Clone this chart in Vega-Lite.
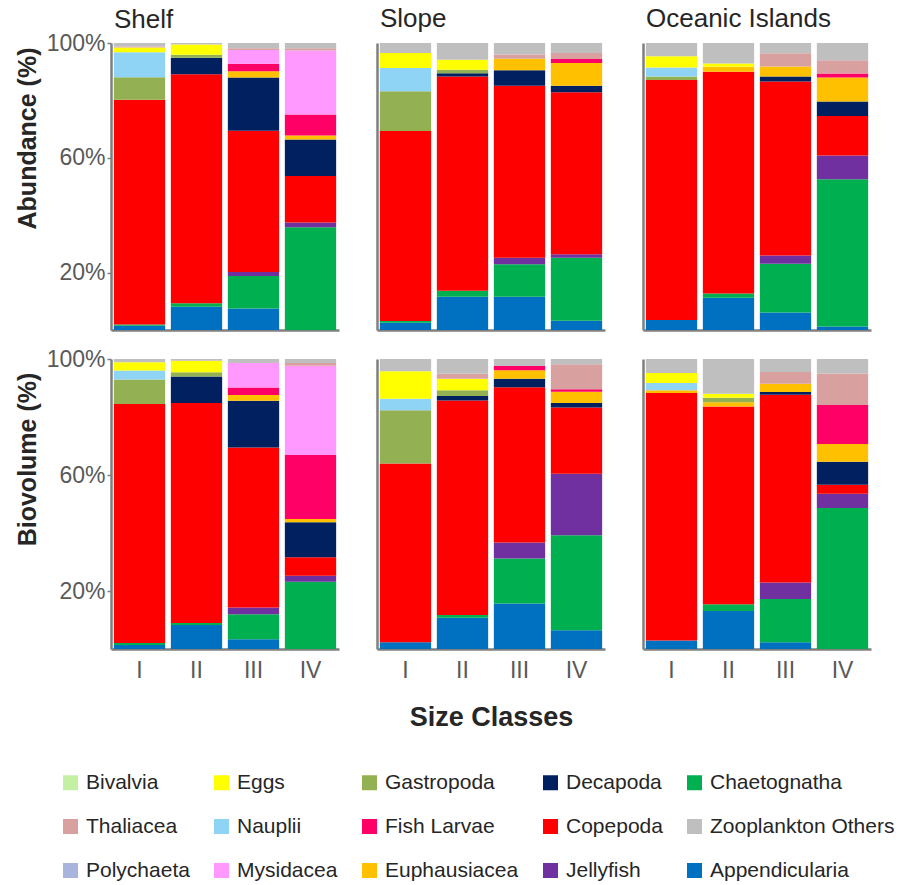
{
  "$schema": "https://vega.github.io/schema/vega-lite/v6.json",
  "padding": {"left": 15, "top": 6, "right": 5, "bottom": 5},
  "config": {
    "font": "Liberation Sans",
    "view": {"stroke": null},
    "axis": {"labelFont": "Liberation Sans", "labelFontSize": 23, "labelColor": "#595959", "domainColor": "#7f7f7f", "domainWidth": 2.5, "tickColor": "#7f7f7f", "tickWidth": 1.5, "tickSize": 4, "labelPadding": 2, "grid": false, "titleFont": "Liberation Sans", "titleFontSize": 25, "titleFontWeight": "bold", "titleColor": "#262626", "titlePadding": 6},
    "title": {"anchor": "start", "frame": "group", "font": "Liberation Sans", "fontSize": 26, "fontWeight": "normal", "color": "#262626", "offset": 11, "dx": 3},
    "legend": {"orient": "none", "legendX": -51, "legendY": 729, "columns": 5, "direction": "horizontal", "title": null, "labelFont": "Liberation Sans", "labelFontSize": 21, "labelColor": "#262626", "symbolType": "square", "symbolSize": 225, "symbolStrokeWidth": 0, "columnPadding": 21, "rowPadding": 22, "labelOffset": 5, "labelLimit": 300}
  },
  "data": {"values": [
    {"metric": "Abundance", "region": "Shelf", "size": "I", "Appendicularia": 1.5, "Chaetognatha": 0.4, "Copepoda": 78.3, "Gastropoda": 7.9, "Nauplii": 8.7, "Eggs": 1.6, "Thaliacea": 0.4, "Zooplankton Others": 1.2},
    {"metric": "Abundance", "region": "Shelf", "size": "II", "Appendicularia": 8.1, "Chaetognatha": 1.2, "Copepoda": 79.8, "Decapoda": 5.8, "Gastropoda": 1.0, "Eggs": 3.6, "Zooplankton Others": 0.5},
    {"metric": "Abundance", "region": "Shelf", "size": "III", "Appendicularia": 7.5, "Chaetognatha": 11.3, "Jellyfish": 1.4, "Copepoda": 49.2, "Decapoda": 18.6, "Euphausiacea": 2.2, "Fish Larvae": 2.6, "Mysidacea": 4.8, "Thaliacea": 0.6, "Zooplankton Others": 1.8},
    {"metric": "Abundance", "region": "Shelf", "size": "IV", "Chaetognatha": 35.8, "Jellyfish": 1.7, "Copepoda": 16.2, "Decapoda": 12.7, "Euphausiacea": 1.4, "Fish Larvae": 7.3, "Mysidacea": 22.3, "Thaliacea": 0.8, "Zooplankton Others": 1.8},
    {"metric": "Abundance", "region": "Slope", "size": "I", "Appendicularia": 2.5, "Chaetognatha": 0.6, "Copepoda": 66.2, "Gastropoda": 13.9, "Nauplii": 8.1, "Eggs": 5.2, "Zooplankton Others": 3.5},
    {"metric": "Abundance", "region": "Slope", "size": "II", "Appendicularia": 11.6, "Chaetognatha": 2.1, "Copepoda": 74.6, "Decapoda": 1.2, "Gastropoda": 1.2, "Eggs": 3.5, "Zooplankton Others": 5.8},
    {"metric": "Abundance", "region": "Slope", "size": "III", "Appendicularia": 11.6, "Chaetognatha": 11.3, "Jellyfish": 2.3, "Copepoda": 59.9, "Decapoda": 5.4, "Euphausiacea": 4.0, "Thaliacea": 1.5, "Zooplankton Others": 4.0},
    {"metric": "Abundance", "region": "Slope", "size": "IV", "Appendicularia": 3.2, "Chaetognatha": 22.0, "Jellyfish": 1.2, "Copepoda": 56.4, "Decapoda": 2.3, "Euphausiacea": 7.9, "Fish Larvae": 1.4, "Thaliacea": 2.1, "Zooplankton Others": 3.5},
    {"metric": "Abundance", "region": "Oceanic Islands", "size": "I", "Appendicularia": 3.5, "Copepoda": 83.6, "Gastropoda": 1.2, "Nauplii": 3.2, "Eggs": 3.9, "Zooplankton Others": 4.6},
    {"metric": "Abundance", "region": "Oceanic Islands", "size": "II", "Appendicularia": 11.2, "Chaetognatha": 1.5, "Copepoda": 77.3, "Euphausiacea": 1.7, "Eggs": 1.2, "Zooplankton Others": 7.1},
    {"metric": "Abundance", "region": "Oceanic Islands", "size": "III", "Appendicularia": 6.1, "Chaetognatha": 17.0, "Jellyfish": 2.9, "Copepoda": 60.6, "Decapoda": 1.7, "Euphausiacea": 3.5, "Thaliacea": 4.6, "Zooplankton Others": 3.6},
    {"metric": "Abundance", "region": "Oceanic Islands", "size": "IV", "Appendicularia": 1.2, "Chaetognatha": 51.3, "Jellyfish": 8.3, "Copepoda": 13.8, "Decapoda": 5.0, "Euphausiacea": 8.4, "Fish Larvae": 1.4, "Thaliacea": 4.6, "Zooplankton Others": 6.0},
    {"metric": "Biovolume", "region": "Shelf", "size": "I", "Appendicularia": 1.4, "Chaetognatha": 0.7, "Copepoda": 82.4, "Gastropoda": 8.4, "Nauplii": 3.1, "Eggs": 2.9, "Zooplankton Others": 1.1},
    {"metric": "Biovolume", "region": "Shelf", "size": "II", "Appendicularia": 8.3, "Chaetognatha": 0.7, "Copepoda": 75.8, "Decapoda": 9.2, "Gastropoda": 1.4, "Eggs": 4.0, "Zooplankton Others": 0.6},
    {"metric": "Biovolume", "region": "Shelf", "size": "III", "Appendicularia": 3.4, "Chaetognatha": 8.6, "Jellyfish": 2.3, "Copepoda": 55.2, "Decapoda": 16.1, "Euphausiacea": 2.0, "Fish Larvae": 2.6, "Mysidacea": 8.4, "Zooplankton Others": 1.4},
    {"metric": "Biovolume", "region": "Shelf", "size": "IV", "Chaetognatha": 23.2, "Jellyfish": 2.1, "Copepoda": 6.3, "Decapoda": 12.1, "Euphausiacea": 1.1, "Fish Larvae": 22.1, "Mysidacea": 30.8, "Thaliacea": 0.9, "Zooplankton Others": 1.4},
    {"metric": "Biovolume", "region": "Slope", "size": "I", "Appendicularia": 2.3, "Copepoda": 61.7, "Gastropoda": 18.3, "Nauplii": 4.0, "Eggs": 9.5, "Zooplankton Others": 4.2},
    {"metric": "Biovolume", "region": "Slope", "size": "II", "Appendicularia": 10.8, "Chaetognatha": 0.9, "Copepoda": 74.0, "Decapoda": 1.5, "Gastropoda": 2.0, "Eggs": 4.0, "Thaliacea": 1.7, "Zooplankton Others": 5.1},
    {"metric": "Biovolume", "region": "Slope", "size": "III", "Appendicularia": 15.7, "Chaetognatha": 15.5, "Jellyfish": 5.5, "Copepoda": 53.6, "Decapoda": 2.9, "Euphausiacea": 2.9, "Fish Larvae": 1.5, "Zooplankton Others": 2.4},
    {"metric": "Biovolume", "region": "Slope", "size": "IV", "Appendicularia": 6.5, "Chaetognatha": 32.7, "Jellyfish": 21.2, "Copepoda": 22.9, "Decapoda": 1.5, "Euphausiacea": 3.9, "Fish Larvae": 0.9, "Thaliacea": 8.6, "Zooplankton Others": 1.8},
    {"metric": "Biovolume", "region": "Oceanic Islands", "size": "I", "Appendicularia": 2.9, "Copepoda": 85.4, "Euphausiacea": 0.9, "Nauplii": 2.5, "Eggs": 3.5, "Zooplankton Others": 4.8},
    {"metric": "Biovolume", "region": "Oceanic Islands", "size": "II", "Appendicularia": 13.1, "Chaetognatha": 2.3, "Copepoda": 68.2, "Euphausiacea": 1.5, "Gastropoda": 1.5, "Eggs": 1.4, "Zooplankton Others": 12.0},
    {"metric": "Biovolume", "region": "Oceanic Islands", "size": "III", "Appendicularia": 2.3, "Chaetognatha": 14.9, "Jellyfish": 5.7, "Copepoda": 64.8, "Decapoda": 0.9, "Euphausiacea": 2.9, "Thaliacea": 4.0, "Zooplankton Others": 4.5},
    {"metric": "Biovolume", "region": "Oceanic Islands", "size": "IV", "Chaetognatha": 48.6, "Jellyfish": 4.9, "Copepoda": 3.1, "Decapoda": 8.0, "Euphausiacea": 6.1, "Fish Larvae": 13.4, "Thaliacea": 10.9, "Zooplankton Others": 5.0}
  ]},
  "transform": [
    {"fold": ["Appendicularia", "Chaetognatha", "Jellyfish", "Copepoda", "Decapoda", "Euphausiacea", "Fish Larvae", "Mysidacea", "Gastropoda", "Nauplii", "Eggs", "Bivalvia", "Polychaeta", "Thaliacea", "Zooplankton Others"], "as": ["taxon", "value"]},
    {"filter": "isValid(datum.value) && datum.value > 0"},
    {"calculate": "indexof(['Appendicularia','Chaetognatha','Jellyfish','Copepoda','Decapoda','Euphausiacea','Fish Larvae','Mysidacea','Gastropoda','Nauplii','Eggs','Bivalvia','Polychaeta','Thaliacea','Zooplankton Others'], datum.taxon)", "as": "rank"}
  ],
  "spacing": 18,
  "vconcat": [
    {"spacing": 38, "hconcat": [
      {"title": {"text": "Shelf", "dy": 12}, "width": 228, "height": 287,
       "transform": [{"filter": "datum.metric == 'Abundance' && datum.region == 'Shelf'"}],
       "mark": "bar",
       "encoding": {
         "x": {"field": "size", "type": "ordinal", "sort": ["I", "II", "III", "IV"], "scale": {"paddingInner": 0.1, "paddingOuter": 0.05}, "axis": {"labels": false, "ticks": false, "title": null}},
         "y": {"field": "value", "type": "quantitative", "stack": "normalize", "scale": {"domain": [0, 1]}, "axis": {"values": [0.2, 0.6, 1], "format": ".0%", "title": "Abundance (%)", "titleY": 95}},
         "color": {"field": "taxon", "type": "nominal", "scale": {"domain": ["Bivalvia", "Eggs", "Gastropoda", "Decapoda", "Chaetognatha", "Thaliacea", "Nauplii", "Fish Larvae", "Copepoda", "Zooplankton Others", "Polychaeta", "Mysidacea", "Euphausiacea", "Jellyfish", "Appendicularia"], "range": ["#c4f0a4", "#ffff00", "#93b153", "#002060", "#00b050", "#d9a0a0", "#8fd3f5", "#ff0066", "#ff0000", "#bfbfbf", "#a9b4dc", "#ff99ff", "#ffc000", "#7030a0", "#0070c0"]}},
         "order": {"field": "rank", "type": "quantitative"}
       }},
      {"title": {"text": "Slope"}, "width": 228, "height": 287,
       "transform": [{"filter": "datum.metric == 'Abundance' && datum.region == 'Slope'"}],
       "mark": "bar",
       "encoding": {
         "x": {"field": "size", "type": "ordinal", "sort": ["I", "II", "III", "IV"], "scale": {"paddingInner": 0.1, "paddingOuter": 0.05}, "axis": {"labels": false, "ticks": false, "title": null}},
         "y": {"field": "value", "type": "quantitative", "stack": "normalize", "scale": {"domain": [0, 1]}, "axis": {"labels": false, "ticks": false, "title": null}},
         "color": {"field": "taxon", "type": "nominal", "scale": {"domain": ["Bivalvia", "Eggs", "Gastropoda", "Decapoda", "Chaetognatha", "Thaliacea", "Nauplii", "Fish Larvae", "Copepoda", "Zooplankton Others", "Polychaeta", "Mysidacea", "Euphausiacea", "Jellyfish", "Appendicularia"], "range": ["#c4f0a4", "#ffff00", "#93b153", "#002060", "#00b050", "#d9a0a0", "#8fd3f5", "#ff0066", "#ff0000", "#bfbfbf", "#a9b4dc", "#ff99ff", "#ffc000", "#7030a0", "#0070c0"]}},
         "order": {"field": "rank", "type": "quantitative"}
       }},
      {"title": {"text": "Oceanic Islands"}, "width": 228, "height": 287,
       "transform": [{"filter": "datum.metric == 'Abundance' && datum.region == 'Oceanic Islands'"}],
       "mark": "bar",
       "encoding": {
         "x": {"field": "size", "type": "ordinal", "sort": ["I", "II", "III", "IV"], "scale": {"paddingInner": 0.1, "paddingOuter": 0.05}, "axis": {"labels": false, "ticks": false, "title": null}},
         "y": {"field": "value", "type": "quantitative", "stack": "normalize", "scale": {"domain": [0, 1]}, "axis": {"labels": false, "ticks": false, "title": null}},
         "color": {"field": "taxon", "type": "nominal", "scale": {"domain": ["Bivalvia", "Eggs", "Gastropoda", "Decapoda", "Chaetognatha", "Thaliacea", "Nauplii", "Fish Larvae", "Copepoda", "Zooplankton Others", "Polychaeta", "Mysidacea", "Euphausiacea", "Jellyfish", "Appendicularia"], "range": ["#c4f0a4", "#ffff00", "#93b153", "#002060", "#00b050", "#d9a0a0", "#8fd3f5", "#ff0066", "#ff0000", "#bfbfbf", "#a9b4dc", "#ff99ff", "#ffc000", "#7030a0", "#0070c0"]}},
         "order": {"field": "rank", "type": "quantitative"}
       }}
    ]},
    {"spacing": 38, "hconcat": [
      {"width": 228, "height": 290,
       "transform": [{"filter": "datum.metric == 'Biovolume' && datum.region == 'Shelf'"}],
       "mark": "bar",
       "encoding": {
         "x": {"field": "size", "type": "ordinal", "sort": ["I", "II", "III", "IV"], "scale": {"paddingInner": 0.1, "paddingOuter": 0.05}, "axis": {"ticks": false, "labelPadding": 10, "labelAngle": 0, "title": null}},
         "y": {"field": "value", "type": "quantitative", "stack": "normalize", "scale": {"domain": [0, 1]}, "axis": {"values": [0.2, 0.6, 1], "format": ".0%", "title": "Biovolume (%)", "titleY": 100}},
         "color": {"field": "taxon", "type": "nominal", "scale": {"domain": ["Bivalvia", "Eggs", "Gastropoda", "Decapoda", "Chaetognatha", "Thaliacea", "Nauplii", "Fish Larvae", "Copepoda", "Zooplankton Others", "Polychaeta", "Mysidacea", "Euphausiacea", "Jellyfish", "Appendicularia"], "range": ["#c4f0a4", "#ffff00", "#93b153", "#002060", "#00b050", "#d9a0a0", "#8fd3f5", "#ff0066", "#ff0000", "#bfbfbf", "#a9b4dc", "#ff99ff", "#ffc000", "#7030a0", "#0070c0"]}},
         "order": {"field": "rank", "type": "quantitative"}
       }},
      {"width": 228, "height": 290,
       "transform": [{"filter": "datum.metric == 'Biovolume' && datum.region == 'Slope'"}],
       "mark": "bar",
       "encoding": {
         "x": {"field": "size", "type": "ordinal", "sort": ["I", "II", "III", "IV"], "scale": {"paddingInner": 0.1, "paddingOuter": 0.05}, "axis": {"ticks": false, "labelPadding": 10, "labelAngle": 0, "title": "Size Classes", "titleFontSize": 27, "titlePadding": 22}},
         "y": {"field": "value", "type": "quantitative", "stack": "normalize", "scale": {"domain": [0, 1]}, "axis": {"labels": false, "ticks": false, "title": null}},
         "color": {"field": "taxon", "type": "nominal", "scale": {"domain": ["Bivalvia", "Eggs", "Gastropoda", "Decapoda", "Chaetognatha", "Thaliacea", "Nauplii", "Fish Larvae", "Copepoda", "Zooplankton Others", "Polychaeta", "Mysidacea", "Euphausiacea", "Jellyfish", "Appendicularia"], "range": ["#c4f0a4", "#ffff00", "#93b153", "#002060", "#00b050", "#d9a0a0", "#8fd3f5", "#ff0066", "#ff0000", "#bfbfbf", "#a9b4dc", "#ff99ff", "#ffc000", "#7030a0", "#0070c0"]}},
         "order": {"field": "rank", "type": "quantitative"}
       }},
      {"width": 228, "height": 290,
       "transform": [{"filter": "datum.metric == 'Biovolume' && datum.region == 'Oceanic Islands'"}],
       "mark": "bar",
       "encoding": {
         "x": {"field": "size", "type": "ordinal", "sort": ["I", "II", "III", "IV"], "scale": {"paddingInner": 0.1, "paddingOuter": 0.05}, "axis": {"ticks": false, "labelPadding": 10, "labelAngle": 0, "title": null}},
         "y": {"field": "value", "type": "quantitative", "stack": "normalize", "scale": {"domain": [0, 1]}, "axis": {"labels": false, "ticks": false, "title": null}},
         "color": {"field": "taxon", "type": "nominal", "scale": {"domain": ["Bivalvia", "Eggs", "Gastropoda", "Decapoda", "Chaetognatha", "Thaliacea", "Nauplii", "Fish Larvae", "Copepoda", "Zooplankton Others", "Polychaeta", "Mysidacea", "Euphausiacea", "Jellyfish", "Appendicularia"], "range": ["#c4f0a4", "#ffff00", "#93b153", "#002060", "#00b050", "#d9a0a0", "#8fd3f5", "#ff0066", "#ff0000", "#bfbfbf", "#a9b4dc", "#ff99ff", "#ffc000", "#7030a0", "#0070c0"]}},
         "order": {"field": "rank", "type": "quantitative"}
       }}
    ]}
  ]
}
